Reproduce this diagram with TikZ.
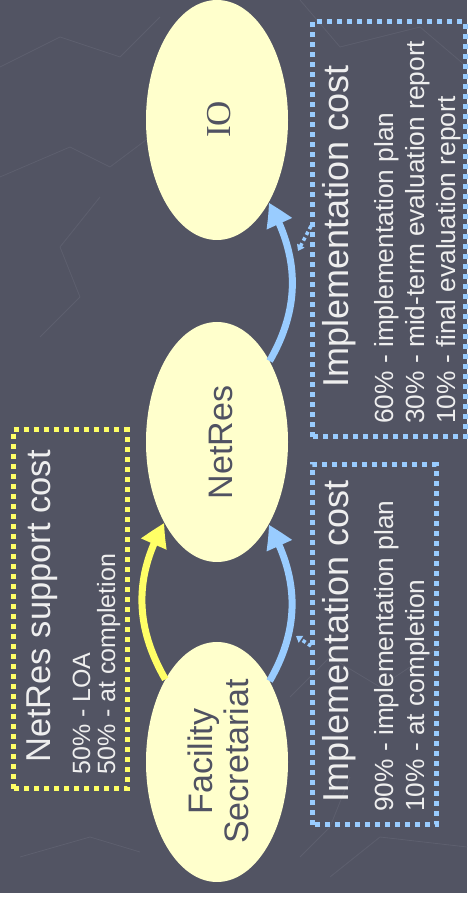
\documentclass[tikz,border=0pt]{standalone}
\usepackage{fontspec}
\setmainfont{Liberation Sans}
\newfontfamily\ioserif{Liberation Serif}
\usetikzlibrary{shapes.geometric,arrows.meta,bending}

\definecolor{slate}{RGB}{82,84,99}
\definecolor{slateline}{RGB}{93,95,110}
\definecolor{bubble}{RGB}{255,255,204}
\definecolor{skyblue}{RGB}{153,204,255}
\definecolor{lemon}{RGB}{255,255,102}
\definecolor{inktext}{RGB}{80,82,98}
\definecolor{paletext}{RGB}{238,238,238}

\tikzset{
  party/.style={ellipse, fill=bubble, draw=none, inner sep=0pt,
    minimum width=142pt, minimum height=240pt},
  partylabel/.style={rotate=90, anchor=base, inner sep=0pt, text=inktext,
    font=\fontsize{34}{36}\selectfont},
  dotbox/.style={line width=5pt, dash pattern=on 5pt off 5pt},
  boxtitle/.style={rotate=90, anchor=base west, inner sep=0pt, text=paletext,
    font=\fontsize{36}{40}\selectfont},
  boxline/.style={rotate=90, anchor=base west, inner sep=0pt, text=paletext,
    font=\fontsize{26.3}{30}\selectfont},
  smallline/.style={rotate=90, anchor=base west, inner sep=0pt, text=paletext,
    font=\fontsize{25}{25}\selectfont},
  payflow/.style={line width=7pt, -{Triangle[length=24pt,width=26pt,bend]}},
  pointer/.style={skyblue, line width=3.5pt, dash pattern=on 3.5pt off 3pt,
    -{Triangle[length=6pt,width=8pt]}},
  texture/.style={slateline, line width=0.8pt},
}

\begin{document}
\begin{tikzpicture}[x=1pt,y=1pt]
  % page and slide background
  \fill[white] (0,0) rectangle (467,897);
  \fill[slate] (0,4) rectangle (467,897);
  \useasboundingbox (0,0) rectangle (467,897);

  % faint map-like lines of the slide background
  \draw[texture] (0,830) -- (60,860) -- (120,840) -- (160,880);
  \draw[texture] (0,720) -- (70,750) -- (110,730) -- (150,760);
  \draw[texture] (40,560) -- (80,600) -- (60,650) -- (100,700);
  \draw[texture] (300,897) -- (340,850) -- (420,870) -- (467,830);
  \draw[texture] (20,40) -- (90,60) -- (140,45);
  \draw[texture] (290,200) -- (330,240) -- (380,210) -- (440,250);
  \draw[texture] (330,20) -- (380,60) -- (467,50);
  \draw[texture] (350,120) -- (330,70) -- (300,40);

  % parties
  \node[party] (io)  at (217,777) {};
  \node[party] (net) at (217,455) {};
  \node[party] (fac) at (217,135) {};
  \node[partylabel, font=\ioserif\fontsize{35}{36}\selectfont] (iotext) at (230,777.5) {IO};
  \node[partylabel] (nettext) at (232,454.5) {NetRes};
  \node[partylabel] (factext) at (212,135.5) {Facility};
  \node[partylabel] (sectext) at (248,135.5) {Secretariat};

  % payment flows
  \draw[payflow, lemon]   (fac.122.4) to[out=120,in=240] (net.237.6);
  \draw[payflow, skyblue] (fac.57.6)  to[out=60,in=300]  (net.302.4);
  \draw[payflow, skyblue] (net.57.6)  to[out=60,in=300]  (io.302.4);

  % cost boxes
  \draw[dotbox, skyblue] (312,460) rectangle (465,875);
  \draw[dotbox, skyblue] (312,72) rectangle (436,432);
  \draw[dotbox, lemon]   (13,108) rectangle (127,467);

  % pointers from the boxes to the flows
  \coordinate (upfrom) at (311,671);
  \coordinate (upto)   at (298,646);
  \coordinate (lowfrom) at (311,251);
  \coordinate (lowto)   at (296,261);
  \draw[pointer] (upfrom) -- (upto);
  \draw[pointer] (lowfrom) -- (lowto);

  % upper box text
  \node[boxtitle] (uptitle) at (348,509) {Implementation cost};
  \node[boxline] (upa) at (393,473) {60\% - implementation plan};
  \node[boxline] (upb) at (424,473) {30\% - mid-term evaluation report};
  \node[boxline] (upc) at (455,473) {10\% - final evaluation report};

  % lower box text
  \node[boxtitle] (lowtitle) at (348,94) {Implementation cost};
  \node[boxline] (lowa) at (393,85) {90\% - implementation plan};
  \node[boxline] (lowb) at (424,85) {10\% - at completion};

  % support box text
  \node[boxtitle, font=\fontsize{34.5}{40}\selectfont] (suptitle) at (50,134) {NetRes support cost};
  \node[smallline] (supa) at (90,122) {50\% - LOA};
  \node[smallline] (supb) at (115,122) {50\% - at completion};
\end{tikzpicture}
\end{document}
